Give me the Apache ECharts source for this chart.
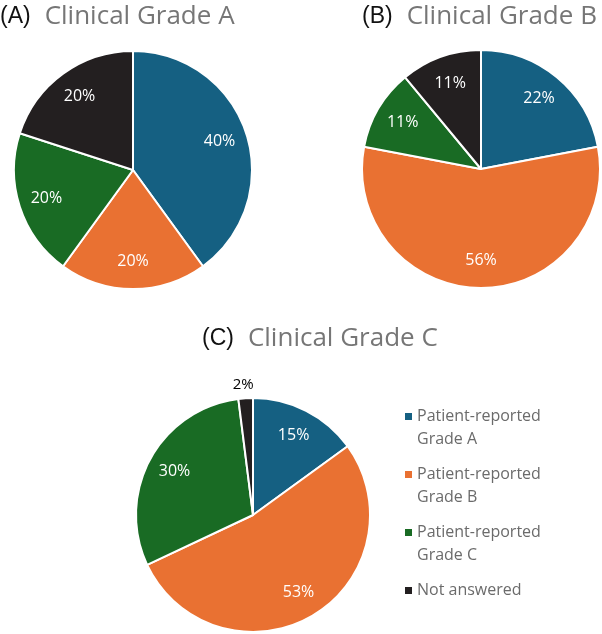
<!DOCTYPE html>
<html>
<head>
<meta charset="utf-8">
<script src="https://cdn.jsdelivr.net/npm/echarts@6/dist/echarts.min.js"></script>
<style>
  html, body { margin: 0; padding: 0; background: #fff; }
  #chart { width: 602px; height: 634px; }
</style>
</head>
<body>
<div id="chart"></div>
<script>
// 分类 (patient-reported grade)
const categories = ["Patient-reported Grade A", "Patient-reported Grade B", "Patient-reported Grade C", "Not answered"];
const colors = ["#156082", "#e97132", "#196b24", "#231f20"];
// percentages for each clinical grade
const gradeA = [40, 20, 20, 20];
const gradeB = [22, 56, 11, 11];
const gradeC = [15, 53, 30, 2];

const FONT = "Open Sans";

// main pie: slices + outside label for tiny slices
function pieSeries(values, center, r) {
  return {
    type: "pie",
    center: center,
    radius: r,
    startAngle: 90,
    clockwise: true,
    avoidLabelOverlap: false,
    itemStyle: { borderColor: "#fff", borderWidth: 2 },
    label: { show: false },
    labelLine: { show: false, length: 14, length2: 0 },
    emphasis: { disabled: true },
    data: values.map((v, i) => ({
      name: categories[i],
      value: v,
      itemStyle: { color: colors[i] },
      label: v < 5 ? {
        show: true, position: "outside", formatter: "{c}%", distanceToLabelLine: -9,
        color: "#000", fontFamily: FONT, fontSize: 15
      } : { show: false }
    }))
  };
}

// transparent ring, only to put the inside labels a bit further out
function labelSeries(values, center, r) {
  return {
    type: "pie",
    center: center,
    radius: [Math.round(r * 0.48), r],
    startAngle: 90,
    silent: true,
    avoidLabelOverlap: false,
    itemStyle: { color: "transparent", borderWidth: 0 },
    label: { show: true, position: "inside", formatter: "{c}%", color: "#fff", fontFamily: FONT, fontSize: 16 },
    labelLine: { show: false },
    data: values.map((v, i) => ({
      name: categories[i] + " ",
      value: v,
      label: { show: v >= 5 }
    }))
  };
}

function titleOf(letter, left, top) {
  return {
    left: left,
    top: top,
    padding: 0,
    text: "{p|(" + letter + ")}{t|Clinical Grade " + letter + "}",
    textStyle: {
      fontWeight: "normal",
      rich: {
        p: { fontFamily: "Liberation Sans", fontSize: 23, fontWeight: "normal", color: "#111", padding: [0, 14, 0, 0], lineHeight: 34 },
        t: { fontFamily: FONT, fontSize: 26, fontWeight: "normal", color: "#767676", lineHeight: 34 }
      }
    }
  };
}

let chart = echarts.init(document.getElementById("chart"));
chart.setOption({
  animation: false,
  backgroundColor: "#fff",
  title: [titleOf("A", 0, 0), titleOf("B", 362, 0), titleOf("C", 202, 322)],
  legend: {
    orient: "vertical",
    left: 405,
    top: 405,
    padding: 0,
    itemWidth: 7,
    itemHeight: 46,
    itemGap: 12,
    icon: "path://M0,8h7v7h-7z M0,0h0.001 M0,46h0.001",
    itemStyle: { borderWidth: 0 },
    data: categories,
    formatter: name => name.indexOf("reported ") > 0 ? name.replace("reported ", "reported\n") : name + "\n",
    textStyle: { fontFamily: FONT, fontSize: 16, color: "#6b6b6b", lineHeight: 23 }
  },
  series: [
    pieSeries(gradeA, [133, 170], 119),
    pieSeries(gradeB, [481, 169], 119),
    pieSeries(gradeC, [253, 515], 117),
    labelSeries(gradeA, [133, 170], 119),
    labelSeries(gradeB, [481, 169], 119),
    labelSeries(gradeC, [253, 515], 117)
  ]
});
</script>
</body>
</html>
